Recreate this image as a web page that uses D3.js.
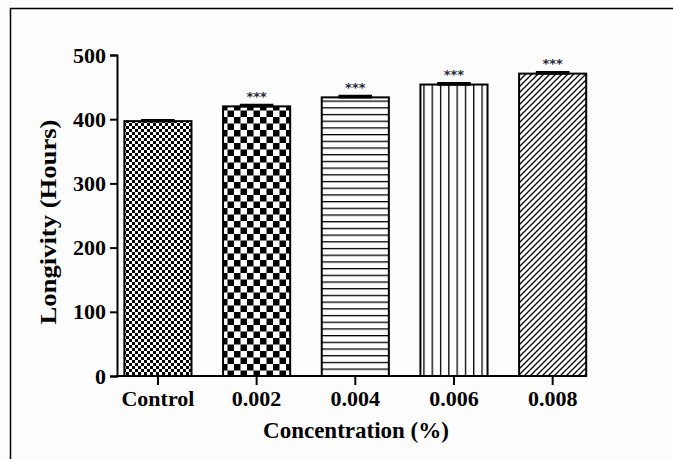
<!DOCTYPE html>
<html><head><meta charset="utf-8">
<script src="https://cdn.jsdelivr.net/npm/d3@7"></script>
<style>html,body{margin:0;padding:0;background:#fdfdfd;}</style>
</head><body>
<script>
const categories = ["Control", "0.002", "0.004", "0.006", "0.008"];
const values = [397, 420, 434, 454, 471];
const errors = [1.5, 2, 2, 2, 2];
const stars = ["", "***", "***", "***", "***"];
const patternIds = ["fineChecker", "bigChecker", "hLines", "vLines", "diag"];
const yTicks = [0, 100, 200, 300, 400, 500];

const W = 673, H = 459;
const svg = d3.select("body").append("svg").attr("width", W).attr("height", H);
svg.append("rect").attr("width", W).attr("height", H).attr("fill", "#fdfdfd");
// frame
svg.append("path").attr("d", `M10.5,${H} L10.5,8.5 L${W},8.5`).attr("fill", "none").attr("stroke", "#000").attr("stroke-width", 1.5);

const defs = svg.append("defs");
function pat(id, w, h) {
  const p = defs.append("pattern").attr("id", id).attr("patternUnits", "userSpaceOnUse").attr("width", w).attr("height", h);
  p.append("rect").attr("width", w).attr("height", h).attr("fill", "#fff");
  return p;
}
let p = pat("fineChecker", 6, 6);
p.append("rect").attr("x", 0).attr("y", 0).attr("width", 3).attr("height", 3).attr("fill", "#000");
p.append("rect").attr("x", 3).attr("y", 3).attr("width", 3).attr("height", 3).attr("fill", "#000");
p = pat("bigChecker", 13, 13);
p.append("rect").attr("x", 0).attr("y", 0).attr("width", 6.5).attr("height", 6.5).attr("fill", "#000");
p.append("rect").attr("x", 6.5).attr("y", 6.5).attr("width", 6.5).attr("height", 6.5).attr("fill", "#000");
p = pat("hLines", 10, 6.7);
p.append("rect").attr("x", 0).attr("y", 0).attr("width", 10).attr("height", 1.3).attr("fill", "#000");
p = pat("vLines", 8.3, 10);
p.append("rect").attr("x", 0).attr("y", 0).attr("width", 1.3).attr("height", 10).attr("fill", "#000");
p = pat("diag", 6, 6);
p.append("path").attr("d", "M-1,7 L7,-1 M-4,4 L4,-4 M2,10 L10,2").attr("stroke", "#000").attr("stroke-width", 1.3);

const x = d3.scaleBand().domain(categories).range([108.6, 602]).paddingInner(0.32).paddingOuter(0.16);
const y = d3.scaleLinear().domain([0, 500]).range([376, 55]);

const font = "'Liberation Serif','Times New Roman',serif";

// bars
const g = svg.append("g");
g.selectAll("rect.bar").data(categories).enter().append("rect")
  .attr("x", d => x(d)).attr("y", (d, i) => y(values[i]))
  .attr("width", x.bandwidth()).attr("height", (d, i) => y(0) - y(values[i]))
  .attr("fill", (d, i) => `url(#${patternIds[i]})`)
  .attr("stroke", "#000").attr("stroke-width", 2);

// error bars
categories.forEach((c, i) => {
  const cx = x(c) + x.bandwidth() / 2;
  const cw = x.bandwidth() * 0.5;
  g.append("line").attr("x1", cx).attr("x2", cx).attr("y1", y(values[i])).attr("y2", y(values[i] + errors[i])).attr("stroke", "#000").attr("stroke-width", 2);
  g.append("line").attr("x1", cx - cw / 2).attr("x2", cx + cw / 2).attr("y1", y(values[i] + errors[i])).attr("y2", y(values[i] + errors[i])).attr("stroke", "#000").attr("stroke-width", 2.5);
  g.append("line").attr("x1", cx - cw / 2).attr("x2", cx + cw / 2).attr("y1", y(values[i])).attr("y2", y(values[i])).attr("stroke", "#000").attr("stroke-width", 2.5);
  if (stars[i]) {
    g.append("text").attr("x", cx).attr("y", y(values[i] + errors[i]) - 4)
      .attr("text-anchor", "middle").attr("font-family", "'DejaVu Sans',sans-serif").attr("font-size", 13).attr("font-weight", "bold")
      .attr("fill", "#2a2a3a").text(stars[i]);
  }
});

// y axis
const yAxis = svg.append("g").attr("transform", "translate(117,0)")
  .call(d3.axisLeft(y).tickValues(yTicks).tickSize(7).tickPadding(4).tickFormat(d3.format("d")));
yAxis.select(".domain").attr("stroke-width", 2);
yAxis.selectAll(".tick line").attr("stroke-width", 2);
yAxis.selectAll("text").attr("font-family", font).attr("font-weight", "bold").attr("font-size", 22).attr("fill", "#000");

// x axis
const xAxis = svg.append("g").attr("transform", "translate(0,376)")
  .call(d3.axisBottom(x).tickSize(9).tickPadding(5).tickSizeOuter(0));
xAxis.select(".domain").remove();
xAxis.append("line").attr("x1", 116).attr("x2", 585).attr("y1", 0).attr("y2", 0).attr("stroke", "#000").attr("stroke-width", 2);
xAxis.selectAll(".tick line").attr("stroke-width", 2);
xAxis.selectAll("text").attr("font-family", font).attr("font-weight", "bold").attr("font-size", 22).attr("fill", "#000");

// titles
svg.append("text").attr("x", 356).attr("y", 438).attr("text-anchor", "middle")
  .attr("font-family", font).attr("font-weight", "bold").attr("font-size", 23).text("Concentration (%)");
svg.append("text").attr("transform", "translate(56,222) rotate(-90)").attr("text-anchor", "middle")
  .attr("font-family", font).attr("font-weight", "bold").attr("font-size", 23)
  .attr("textLength", 205).attr("lengthAdjust", "spacingAndGlyphs").text("Longivity (Hours)");
</script>
</body></html>
